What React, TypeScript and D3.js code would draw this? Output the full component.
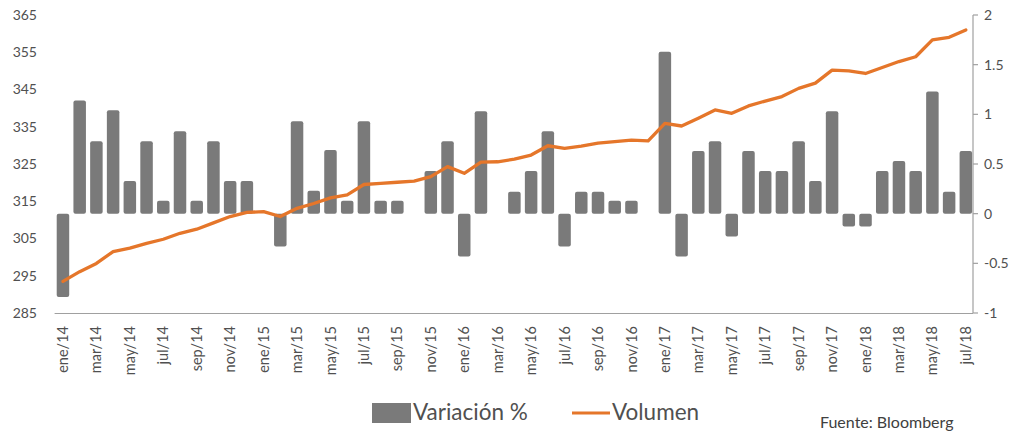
import React from "react";
import * as d3 from "d3";

const monthNames = ["ene", "feb", "mar", "abr", "may", "jun", "jul", "ago", "sep", "oct", "nov", "dic"];
const years = ["14", "15", "16", "17", "18"];
const months: string[] = [];
years.forEach((y) => monthNames.forEach((m) => months.push(`${m}/${y}`)));
const categories = months.slice(0, 55);

const variacion = [
  -0.84, 1.14, 0.73, 1.04, 0.33, 0.73, 0.13, 0.83, 0.13, 0.73, 0.33, 0.33,
  0, -0.33, 0.93, 0.23, 0.64, 0.13, 0.93, 0.13, 0.13, 0, 0.43, 0.73,
  -0.43, 1.03, 0, 0.22, 0.43, 0.83, -0.33, 0.22, 0.22, 0.13, 0.13, 0,
  1.63, -0.43, 0.63, 0.73, -0.23, 0.63, 0.43, 0.43, 0.73, 0.33, 1.03, -0.13,
  -0.13, 0.43, 0.53, 0.43, 1.23, 0.22, 0.63,
];

const volumen = [
  293.5, 296.1, 298.3, 301.5, 302.4, 303.7, 304.8, 306.4, 307.5, 309.2, 310.9, 312.0,
  312.2, 310.9, 313.1, 314.4, 315.9, 316.7, 319.5, 319.8, 320.1, 320.4, 321.6, 324.3,
  322.5, 325.5, 325.6, 326.3, 327.4, 329.9, 329.2, 329.8, 330.6, 331.0, 331.4, 331.2,
  335.9, 335.2, 337.3, 339.5, 338.6, 340.6, 341.9, 343.1, 345.3, 346.7, 350.2, 350.0,
  349.3, 350.9, 352.5, 353.8, 358.3, 359.0, 361.0,
];

const leftTicks = [285, 295, 305, 315, 325, 335, 345, 355, 365];
const rightTicks = [-1, -0.5, 0, 0.5, 1, 1.5, 2];

const FONT = "Lato, 'Liberation Sans', sans-serif";
const BAR = "#7a7a7a";
const ORANGE = "#e5762a";
const TEXT = "#505050";

export default function App() {
  const top = 15;
  const bottom = 313;
  const left = 54.6;
  const right = 974.2;
  const axisX = 973;

  const x = d3.scaleBand<string>().domain(categories).range([left, right]).paddingInner(0).paddingOuter(0);
  const yL = d3.scaleLinear().domain([285, 365]).range([bottom, top]);
  const yR = d3.scaleLinear().domain([-1, 2]).range([bottom, top]);
  const bw = 12.5;
  const cx = (c: string) => (x(c) as number) + x.bandwidth() / 2;

  const line = d3
    .line<number>()
    .x((_, i) => cx(categories[i]))
    .y((d) => yL(d));

  return (
    <svg
      width={1015}
      height={432}
      style={{ position: "absolute", left: 0, top: 0, background: "#fff" }}
      fontFamily={FONT}
    >
      {leftTicks.map((t) => (
        <text key={t} x={37} y={yL(t)} dy="0.35em" textAnchor="end" fontSize={14} fill={TEXT}>
          {t}
        </text>
      ))}
      <line x1={axisX} x2={axisX} y1={top} y2={bottom} stroke="#a0a0a0" strokeWidth={1.2} />
      {rightTicks.map((t) => (
        <g key={t}>
          <line x1={axisX} x2={axisX + 5} y1={yR(t)} y2={yR(t)} stroke="#a0a0a0" strokeWidth={1.2} />
          <text x={984} y={yR(t)} dy="0.35em" textAnchor="start" fontSize={14} fill={TEXT}>
            {t}
          </text>
        </g>
      ))}
      {variacion.map((v, i) => (
        <rect
          key={i}
          x={cx(categories[i]) - bw / 2}
          y={yR(Math.max(v, 0))}
          width={bw}
          height={Math.abs(yR(v) - yR(0))}
          rx={2}
          fill={BAR}
        />
      ))}
      <line x1={left} x2={axisX} y1={bottom + 0.5} y2={bottom + 0.5} stroke="#a0a0a0" strokeWidth={1.2} />
      <path d={line(volumen) || ""} fill="none" stroke={ORANGE} strokeWidth={3.3} strokeLinejoin="round" strokeLinecap="round" />
      {categories.map((c, i) =>
        i % 2 === 0 ? (
          <text
            key={c}
            transform={`translate(${cx(c)},326) rotate(-90)`}
            dy="0.35em"
            textAnchor="end"
            fontSize={14.5}
            fill={TEXT}
          >
            {c}
          </text>
        ) : null
      )}
      <rect x={372} y={403} width={39} height={20} fill={BAR} />
      <text x={413} y={420} fontSize={22.5} fill={TEXT}>
        Variación %
      </text>
      <line x1={572} x2={610} y1={413} y2={413} stroke={ORANGE} strokeWidth={3} />
      <text x={612} y={420} fontSize={22.5} fill={TEXT}>
        Volumen
      </text>
      <text x={820} y={428} fontSize={16} fill="#404040">
        Fuente: Bloomberg
      </text>
    </svg>
  );
}
